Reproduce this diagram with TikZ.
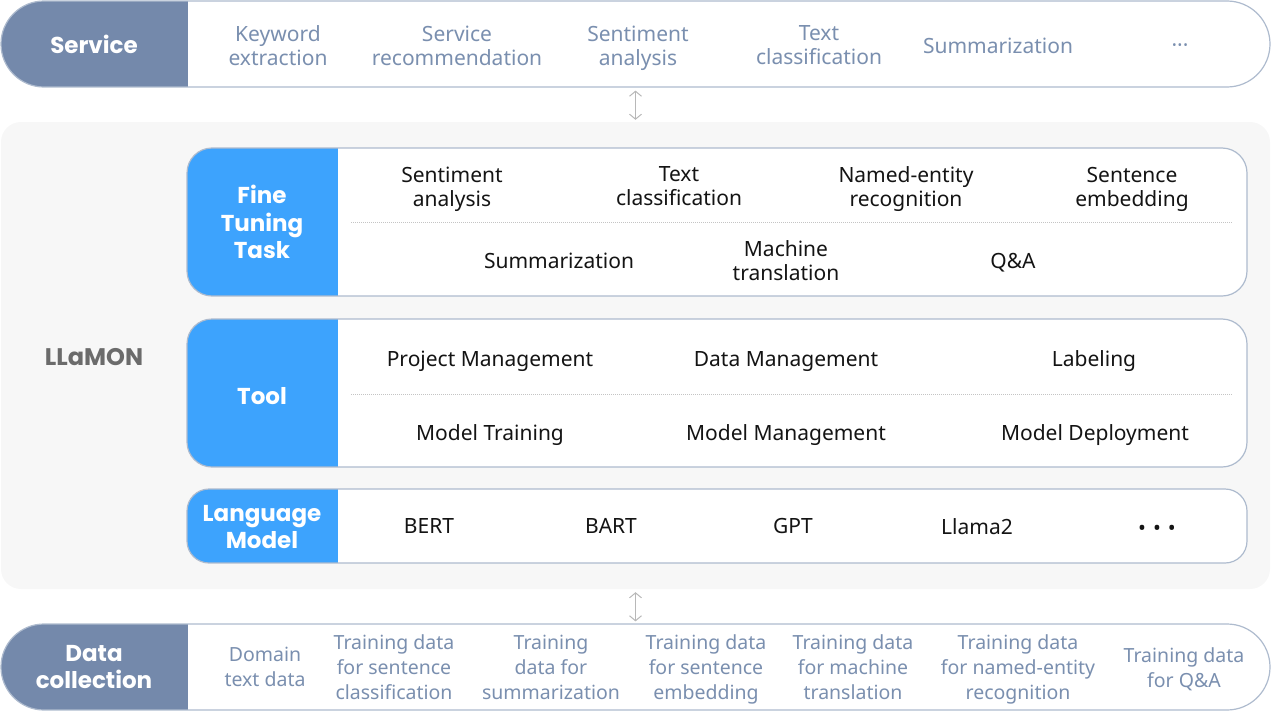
\documentclass[tikz,border=0pt]{standalone}
\usepackage{fontspec}
\setmainfont{Noto Sans}
\newfontfamily\headfont{Poppins}
\usetikzlibrary{arrows.meta}
\definecolor{slate}{HTML}{7489AB}
\definecolor{slatetext}{HTML}{7A8FAF}
\definecolor{skyblue}{HTML}{3DA3FD}
\definecolor{edge}{HTML}{AEBBCE}
\definecolor{panelgray}{HTML}{F7F7F7}
\definecolor{dotgray}{HTML}{C4C4C4}
\definecolor{arrowgray}{HTML}{B8B8B8}
\definecolor{labelgray}{HTML}{6B6B6B}
\begin{document}
\begin{tikzpicture}[x=1pt,y=-1pt,
  pill/.style={draw=edge, line width=1.2pt, fill=white, rounded corners=43pt,
    minimum width=1269pt, minimum height=86pt, inner sep=0pt,
    path picture={\fill[slate, sharp corners] (path picture bounding box.north west) rectangle ([xshift=187pt]path picture bounding box.south west);}},
  layerbox/.style={draw=edge, line width=1.2pt, fill=white, rounded corners=#1,
    minimum width=1060pt, inner sep=0pt,
    path picture={\fill[skyblue, sharp corners] (path picture bounding box.north west) rectangle ([xshift=151pt]path picture bounding box.south west);}},
  panelbox/.style={fill=panelgray, rounded corners=20pt, minimum width=1269pt, minimum height=467pt, inner sep=0pt},
  txt/.style={align=center, inner sep=0pt, yshift=-4pt, execute at begin node=\strut, execute at end node=\strut},
  svc/.style={txt, font=\fontsize{21}{24}\selectfont, text=slatetext},
  item/.style={txt, font=\fontsize{21}{24}\selectfont, text=black!92},
  datatxt/.style={txt, font=\fontsize{19.5}{25}\selectfont, text=slatetext},
  head/.style={txt, font=\headfont\bfseries\fontsize{23}{27.5}\selectfont, text=white},
  sepline/.style={dotgray, line width=0.8pt, dash pattern=on 1pt off 1pt},
  dblarrow/.style={arrowgray, line width=1pt, {Straight Barb[length=5pt,width=12pt]}-{Straight Barb[length=5pt,width=12pt]}}
]
\useasboundingbox (0,0) rectangle (1272,712);

% Service
\node[pill] (service) at (635.5,44) {};
\node[head] (svchead) at (94,44) {Service};
\node[svc] (s1) at (278,45) {Keyword\\extraction};
\node[svc] (s2) at (457,45) {Service\\recommendation};
\node[svc] (s3) at (638,45) {Sentiment\\analysis};
\node[svc] (s4) at (819,45) {Text\\classification};
\node[svc] (s5) at (998,45) {Summarization};
\node[svc] (s6) at (1180,44) {···};

% LLaMON panel
\node[panelbox] (panel) at (635.5,355.5) {};
\node[txt, font=\headfont\bfseries\fontsize{24}{28}\selectfont, text=labelgray] (llamon) at (94,356) {LLaMON};

% Fine tuning
\node[layerbox=25pt, minimum height=148pt] (ft) at (717,222) {};
\node[head] (fthead) at (262,222) {Fine\\Tuning\\Task};
\node[item] (f1) at (452,186) {Sentiment\\analysis};
\node[item] (f2) at (679,186) {Text\\classification};
\node[item] (f3) at (906,186) {Named-entity\\recognition};
\node[item] (f4) at (1132,186) {Sentence\\embedding};
\draw[sepline] (351,222) -- (1233,222);
\node[item] (f5) at (559,260) {Summarization};
\node[item] (f6) at (786,260) {Machine\\translation};
\node[item] (f7) at (1013,260) {Q\&A};

% Tool
\node[layerbox=25pt, minimum height=148pt] (tool) at (717,393) {};
\node[head] (toolhead) at (262,395) {Tool};
\node[item] (t1) at (490,358) {Project Management};
\node[item] (t2) at (786,358) {Data Management};
\node[item] (t3) at (1094,358) {Labeling};
\draw[sepline] (351,394) -- (1233,394);
\node[item] (t4) at (490,432) {Model Training};
\node[item] (t5) at (786,432) {Model Management};
\node[item] (t6) at (1095,432) {Model Deployment};

% Language model
\node[layerbox=22pt, minimum height=74pt] (lm) at (717,526) {};
\node[head] (lmhead) at (262,527) {Language\\Model};
\node[item] (m1) at (429,525) {BERT};
\node[item] (m2) at (611,525) {BART};
\node[item] (m3) at (793,525) {GPT};
\node[item] (m4) at (977,526) {Llama2};
\node[item] (m5) at (1157,527) {•\,\,•\,\,•};

% Data collection
\node[pill] (data) at (635.5,667) {};
\node[head] (datahead) at (94,667) {Data\\collection};
\node[datatxt] (d1) at (265,667) {Domain\\text data};
\node[datatxt] (d2) at (394,667) {Training data\\for sentence\\classification};
\node[datatxt] (d3) at (551,667) {Training\\data for\\summarization};
\node[datatxt] (d4) at (706,667) {Training data\\for sentence\\embedding};
\node[datatxt] (d5) at (853,667) {Training data\\for machine\\translation};
\node[datatxt] (d6) at (1018,667) {Training data\\for named-entity\\recognition};
\node[datatxt] (d7) at (1184,667) {Training data\\for Q\&A};

% Arrows
\draw[dblarrow] ([yshift=-3pt]service.south) -- ([yshift=2pt]panel.north);
\draw[dblarrow] ([yshift=-3pt]panel.south) -- ([yshift=2pt]data.north);
\end{tikzpicture}
\end{document}
